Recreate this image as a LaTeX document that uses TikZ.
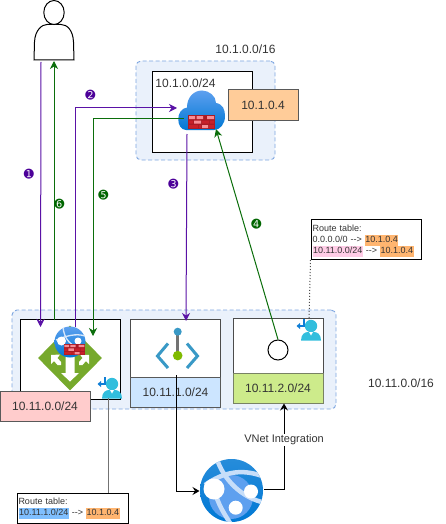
\documentclass[tikz,border=0pt]{standalone}
\usepackage{fontspec}
\setmainfont{Liberation Sans}
\newfontfamily\dingfont{DejaVu Sans}
\usetikzlibrary{arrows.meta,shapes.geometric}
\definecolor{vnetfill}{HTML}{EAF1FB}
\definecolor{vnetline}{HTML}{7EA6E0}
\definecolor{flowpurple}{HTML}{5A12A6}
\definecolor{steppurple}{HTML}{4C0099}
\definecolor{flowgreen}{HTML}{0B6E0B}
\definecolor{stepgreen}{HTML}{006600}
\definecolor{txt}{HTML}{333333}
\definecolor{hlorange}{HTML}{FFB570}
\definecolor{hlpink}{HTML}{FFCCE6}
\definecolor{hlblue}{HTML}{7FBFFF}
\definecolor{cloudtop}{HTML}{5EA0EF}
\definecolor{cloudbot}{HTML}{0078D4}
\definecolor{fwred}{HTML}{C8202A}
\definecolor{fwlight}{HTML}{F78D95}
\definecolor{gwgreen}{HTML}{76A92C}
\definecolor{usercyan}{HTML}{32BEDD}
\definecolor{iconblue}{HTML}{3999C6}
\definecolor{icongreen}{HTML}{7FBA00}
\definecolor{arrowblue}{HTML}{0F7ED6}
\definecolor{lblorange}{HTML}{FFCC99}
\definecolor{lblblue}{HTML}{CCE5FF}
\definecolor{lblgreen}{HTML}{CDEB8B}
\definecolor{lblgreenline}{HTML}{788264}
\definecolor{lblred}{HTML}{FFCCCC}
\setlength{\fboxsep}{0pt}
\newcommand{\hl}[2]{\colorbox{#1}{\strut\kern0.5pt #2\kern0.5pt}}
\newcommand{\rarr}{{-}{-}\textgreater{}}
\tikzset{
  x=1pt,y=-1pt,
  vnet/.style={draw=vnetline,fill=vnetfill,dash pattern=on 4pt off 2.5pt,rounded corners=5pt,line width=0.9pt},
  subnet/.style={draw=black,fill=white,line width=1pt},
  lbl/.style={draw=black!65,line width=1pt,text=txt,font=\fontsize{12}{14}\selectfont,inner sep=0pt,align=center},
  plain/.style={text=txt,font=\fontsize{12}{14}\selectfont,inner sep=0pt},
  routebox/.style={draw=black,fill=white,line width=1pt,anchor=north west,inner ysep=0pt,inner xsep=1.5pt,text=txt,align=left,font=\fontsize{9}{11}\selectfont},
  purpleflow/.style={draw=flowpurple,line width=1pt,-{Stealth[length=8pt,width=8pt,inset=2.5pt]}},
  greenflow/.style={draw=flowgreen,line width=1pt,-{Stealth[length=8pt,width=8pt,inset=2.5pt]}},
  blackflow/.style={draw=black,line width=1pt},
  blacktip/.style={-{Stealth[length=7pt,width=8pt,inset=2.5pt]}},
  stepno/.style={font=\dingfont\fontsize{12}{12}\selectfont,inner sep=0pt},
}
\newcommand{\firewall}[3]{%
  \begin{scope}[shift={(#1,#2)},scale=#3]
    \fill[fwred!85!black] (0,0) rectangle (27,14);
    \fill[fwlight] (1,1) rectangle (7,4) (8.5,1) rectangle (15,4) (19,1) rectangle (26,4);
    \fill[fwred] (1,5.5) rectangle (5,8.5) (14,5.5) rectangle (21,8.5) (22,5.5) rectangle (26,8.5);
    \fill[fwlight] (6,5.5) rectangle (13,8.5) (14,10) rectangle (20,13);
    \fill[fwred] (1,10) rectangle (10,13) (11,10) rectangle (13,13) (21,10) rectangle (26,13);
  \end{scope}}
\newcommand{\routeuser}[2]{%
  \begin{scope}[shift={(#1,#2)}]
    \fill[usercyan] (0,0) circle (6.2);
    \fill[usercyan] (-10,14.5) .. controls (-10,8) and (-6,6) .. (-3,6) -- (3,6) .. controls (6,6) and (10,8) .. (10,14.5) -- cycle;
    \fill[white] (-2,6) -- (2,6) -- (0,9.5) -- cycle;
    \draw[arrowblue,line width=1.5pt] (-7,-7) -- (-7,0) -- (-12,0);
    \fill[arrowblue] (-14.5,0) -- (-11,-3) -- (-11,3) -- cycle;
  \end{scope}}
\begin{document}
\begin{tikzpicture}
\useasboundingbox (0,0) rectangle (446,524);
\fill[white] (0,0) rectangle (446,524);

% person
\draw[black,fill=white,line width=1pt] (34,60) -- (34.5,42) .. controls (35,30) and (42,24.5) .. (47,24.5) -- (61,24.5) .. controls (67,24.5) and (73,30) .. (73.5,42) -- (74,60) -- cycle;
\draw[black,fill=white,line width=1pt] (54,12.5) ellipse (10.2 and 12);
\coordinate (personL) at (41,62);
\coordinate (personR) at (54,61);

% upper vnet
\node[vnet,minimum width=139pt,minimum height=99pt,inner sep=0pt] (vnetA) at (205.5,110.5) {};
\node[subnet,minimum width=100pt,minimum height=80pt,inner sep=0pt] (subA) at (202,112) {};
\node[plain] (subAtxt) at (185.5,83) {10.1.0.0/24};
\node[plain] (vnetAtxt) at (245.5,49.5) {10.1.0.0/16};
\node[lbl,fill=lblorange,minimum width=70pt,minimum height=30pt] (ipA) at (263,105) {10.1.0.4};

% lower vnet
\node[vnet,minimum width=324pt,minimum height=99pt,inner sep=0pt] (vnetB) at (174,359.5) {};
\node[subnet,minimum width=100pt,minimum height=80pt,inner sep=0pt] (subB0) at (70,359) {};
\node[subnet,draw=black!70,minimum width=90pt,minimum height=88pt,inner sep=0pt] (subB1) at (175.5,363) {};
\node[subnet,draw=black!70,minimum width=90pt,minimum height=85pt,inner sep=0pt] (subB2) at (278,360.5) {};
\node[lbl,fill=lblblue,minimum width=90pt,minimum height=30pt] (lblB1) at (175.5,392) {10.11.1.0/24};
\node[lbl,minimum width=90pt,minimum height=30pt,fill=lblgreen,draw=lblgreenline] (lblB2) at (278,388) {10.11.2.0/24};
\node[plain] (vnetBtxt) at (401,383.5) {10.11.0.0/16};

% application gateway with web firewall
\node[diamond,aspect=0.985,fill=gwgreen,minimum width=64pt,minimum height=65pt,inner sep=0pt] (gw) at (70,358) {};
\fill[white] (65.5,355) -- (74.5,355) -- (74.5,373) -- (79,373) -- (70,381.5) -- (61,373) -- (65.5,373) -- cycle;
\fill[white] (51,355) -- (60,354.5) -- (57.5,358) -- (61,362) -- (61,365) -- (57.5,365) -- (54,361) -- (51,364) -- cycle;
\fill[white] (89,355) -- (80,354.5) -- (82.5,358) -- (79,362) -- (79,365) -- (82.5,365) -- (86,361) -- (89,364) -- cycle;
\shade[top color=cloudtop,bottom color=cloudbot] (70,342) circle (15.5);
\begin{scope}
  \clip (70,342) circle (15.5);
  \draw[white!75!cloudtop,line width=1.3pt] (63,327) .. controls (64,338) and (70,348) .. (86,349);
  \draw[white!75!cloudtop,line width=1.3pt] (56,340) .. controls (66,336) and (76,333) .. (85,336);
  \fill[white] (61.5,341) circle (4.5);
  \fill[white] (78,341) circle (3.5);
\end{scope}
\firewall{63.5}{344}{0.8}

% code icon
\draw[iconblue,line width=3pt,line join=miter] (168,343.5) -- (157.5,356) -- (168,368);
\draw[iconblue,line width=3pt,line join=miter] (187,343.5) -- (197.5,356) -- (187,368);
\draw[black!55,line width=3pt] (177.7,332) -- (177.7,355);
\fill[iconblue] (177.7,331.7) circle (4);
\fill[icongreen] (177.7,355.6) circle (4.8);

% integration circle
\node[circle,draw=black,fill=white,line width=1pt,minimum size=20pt,inner sep=0pt] (intc) at (278,350) {};

% cloud firewall
\shade[top color=cloudtop,bottom color=cloudbot]
  (186,130) .. controls (176,130) and (175,109) .. (187,107.5)
  .. controls (187,97) and (194,90.5) .. (202,90.5)
  .. controls (209,90.5) and (216,96) .. (216,103)
  .. controls (223,104) and (225,110) .. (225,116)
  .. controls (225,124) and (220,130) .. (214,130) -- cycle;
\firewall{188}{115}{1}
\coordinate (fwBottom) at (216,129);
\coordinate (fwIn2) at (177,108);
\coordinate (fwOut5) at (184,118);
\coordinate (fwOut3) at (187,134);

% web app
\shade[top color=cloudbot!85!white,bottom color=cloudbot] (231.5,490.5) circle (31.5);
\begin{scope}
  \clip (231.5,490.5) circle (31.5);
  \fill[cloudtop] (231,497) circle (22);
  \draw[white!65!cloudtop,line width=4.5pt] (218,462) .. controls (224,478) and (240,498) .. (266,503);
  \draw[white!65!cloudtop,line width=4.5pt] (205,485) .. controls (222,473) and (240,468) .. (262,476);
  \draw[white!65!cloudtop,line width=4.5pt] (214,489) .. controls (218,505) and (225,515) .. (232,526);
\end{scope}
\node[circle,fill=white,minimum size=21pt,inner sep=0pt] (wa1) at (214,489) {};
\node[circle,fill=white,minimum size=14pt,inner sep=0pt] (wa2) at (251,491.5) {};
\node[circle,fill=white,minimum size=14pt,inner sep=0pt] (wa3) at (235.7,507.7) {};
\coordinate (waL) at (199.5,491);
\coordinate (waR) at (264,489);

% route user icons
\routeuser{112}{384}
\routeuser{311}{326}

% route tables
\node[routebox,text width=108pt,minimum height=30pt] (rt1) at (16.5,493) {Route table:\\\hl{hlblue}{10.11.1.0/24} \rarr{} \hl{hlorange}{10.1.0.4}};
\node[routebox,text width=107pt,minimum height=40pt] (rt2) at (310.5,219) {\rule{0pt}{10pt}Route table:\\0.0.0.0/0 \rarr{} \hl{hlorange}{10.1.0.4}\\\hl{hlpink}{10.11.0.0/24} \rarr{} \hl{hlorange}{10.1.0.4}};
\coordinate (u1) at (108.5,398);
\coordinate (u2) at (309,320);
\draw[black!55,line width=1pt] (u1) -- (u1 |- rt1.north);
\draw[black!70,line width=1pt,dotted] (rt2.south west) -- (u2);

% flows
\coordinate (gw1) at (40.5,327);
\coordinate (gw2) at (75.5,327);
\coordinate (gw5) at (93,336);
\coordinate (gw6) at (54,320);
\coordinate (b1) at (186,321);
\draw[purpleflow] (personL) -- (gw1);
\draw[greenflow] (gw6) -- (personR);
\draw[purpleflow] (gw2) -- (gw2 |- fwIn2) -- (fwIn2);
\draw[greenflow] (fwOut5) -- (gw5 |- fwOut5) -- (gw5);
\draw[purpleflow] (fwOut3) -- (b1);
\draw[greenflow] (intc.north) -- (fwBottom);

% subnet label over gateway box
\node[lbl,fill=lblred,minimum width=90pt,minimum height=30pt] (lblB0) at (45,406) {10.11.0.0/24};

% vnet integration
\coordinate (b1start) at (176.7,375);
\draw[blackflow,blacktip] (b1start) -- (b1start |- waL) -- (waL);
\draw[blackflow,blacktip] (waR) -- (284,489) -- (284,403.5);
\node[plain,fill=white,font=\fontsize{11}{13}\selectfont,inner ysep=1pt,inner xsep=0pt] (vi) at (284,440) {VNet Integration};

% step numbers
\node[stepno,text=steppurple] (n1) at (29,174.5) {➊};
\node[stepno,text=steppurple] (n2) at (90.5,95.5) {➋};
\node[stepno,text=steppurple] (n3) at (173.5,184.5) {➌};
\node[stepno,text=stepgreen] (n4) at (256.5,224) {➍};
\node[stepno,text=stepgreen] (n5) at (103.5,195) {➎};
\node[stepno,text=stepgreen] (n6) at (59.5,204) {➏};
\end{tikzpicture}
\end{document}
